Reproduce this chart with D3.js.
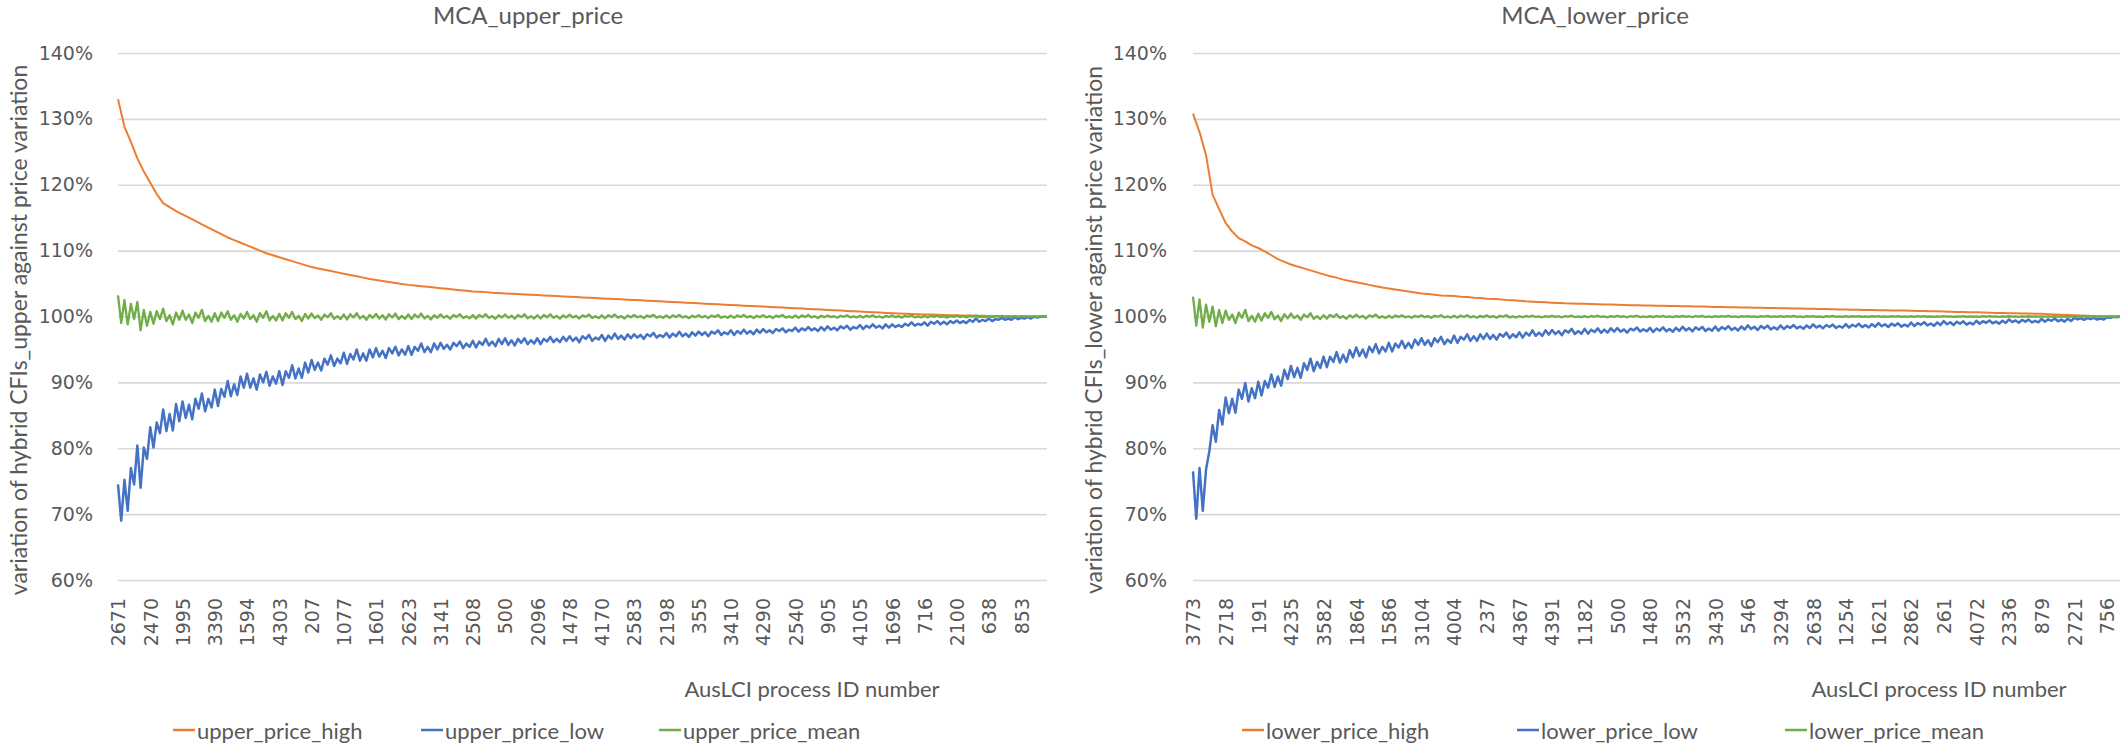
<!DOCTYPE html>
<html><head><meta charset="utf-8">
<script src="https://cdn.jsdelivr.net/npm/d3@7"></script>
<style>body{margin:0;background:#fff} svg{display:block}</style>
</head><body>
<script>
// ---------- DATA ----------
const yTickValues = [60, 70, 80, 90, 100, 110, 120, 130, 140];
const tickStep = 10;   // one category label every 10 plotted categories
const highStride = 2;  // the smooth "high" series is read at every 2nd category

const upperTickLabels = ['2671','2470','1995','3390','1594','4303','207','1077','1601','2623','3141','2508','500','2096','1478','4170','2583','2198','355','3410','4290','2540','905','4105','1696','716','2100','638','853'];
const lowerTickLabels = ['3773','2718','191','4235','3582','1864','1586','3104','4004','237','4367','4391','1182','500','1480','3532','3430','546','3294','2638','1254','1621','2862','261','4072','2336','879','2721','756'];

const upperHigh = [
 133.0,128.8,126.5,124.0,122.0,120.3,118.6,117.2,116.6,116.0,
 115.5,115.0,114.5,114.0,113.5,113.0,112.5,112.0,111.6,111.2,
 110.8,110.4,110.0,109.6,109.3,109.0,108.7,108.4,108.1,107.8,
 107.5,107.3,107.1,106.9,106.7,106.5,106.3,106.1,105.9,105.7,
 105.55,105.4,105.25,105.1,104.95,104.8,104.7,104.6,104.5,104.4,
 104.3,104.2,104.1,104.0,103.9,103.8,103.75,103.7,103.6,103.55,
 103.5,103.45,103.4,103.35,103.3,103.25,103.2,103.15,103.1,103.05,
 103.0,102.95,102.9,102.85,102.8,102.75,102.7,102.65,102.6,102.55,
 102.5,102.45,102.4,102.35,102.3,102.25,102.2,102.15,102.1,102.05,
 102.0,101.95,101.9,101.85,101.8,101.75,101.7,101.65,101.6,101.55,
 101.5,101.45,101.4,101.35,101.3,101.25,101.2,101.15,101.1,101.05,
 101.0,100.95,100.9,100.85,100.8,100.75,100.7,100.65,100.6,100.55,
 100.5,100.45,100.42,100.38,100.35,100.32,100.29,100.26,100.23,100.2,
 100.18,100.16,100.14,100.12,100.1,100.08,100.07,100.06,100.05,100.04,
 100.03,100.02,100.01,100.0,100.0];

const upperLow = [
 74.5,69.0,75.2,70.5,77.0,74.5,80.4,74.0,80.1,78.4,
 83.2,80.1,83.9,82.3,85.9,82.6,85.2,82.7,86.7,84.1,
 87.1,84.6,86.6,84.4,87.5,86.0,88.3,85.6,87.5,86.2,
 88.9,86.4,89.0,87.8,90.2,87.9,89.7,88.1,90.9,89.2,
 91.3,89.2,90.6,88.9,91.2,90.0,91.6,89.5,90.9,89.8,
 91.7,89.6,91.7,90.7,92.6,90.6,92.1,90.7,93.0,91.5,
 93.4,91.9,93.0,91.8,93.6,92.7,94.1,92.5,93.6,92.9,
 94.5,92.8,94.3,93.5,95.0,93.3,94.4,93.3,95.0,93.8,
 95.2,93.9,94.8,93.7,95.2,94.4,95.4,94.1,95.0,94.2,
 95.5,94.2,95.4,94.8,95.9,94.6,95.4,94.6,95.9,95.0,
 96.0,95.1,95.7,95.0,96.0,95.5,96.2,95.2,95.9,95.4,
 96.3,95.3,96.2,95.7,96.6,95.6,96.2,95.5,96.6,95.8,
 96.7,95.7,96.4,95.6,96.6,96.0,96.7,95.8,96.4,95.9,
 96.7,95.8,96.6,96.2,96.9,96.1,96.6,96.1,96.9,96.3,
 97.0,96.3,96.8,96.1,97.0,96.6,97.2,96.3,96.8,96.5,
 97.2,96.3,97.1,96.6,97.4,96.6,97.1,96.5,97.3,96.7,
 97.3,96.8,97.2,96.6,97.3,97.0,97.5,96.8,97.2,96.9,
 97.5,96.8,97.4,97.0,97.7,97.0,97.4,96.9,97.6,97.1,
 97.7,97.2,97.6,97.0,97.7,97.4,97.9,97.2,97.6,97.3,
 97.9,97.2,97.8,97.4,98.0,97.4,97.8,97.3,98.0,97.5,
 98.1,97.6,97.9,97.5,98.1,97.8,98.2,97.6,98.0,97.8,
 98.3,97.7,98.2,97.9,98.4,97.9,98.2,97.8,98.4,97.9,
 98.5,98.0,98.3,97.9,98.5,98.2,98.6,98.0,98.4,98.2,
 98.7,98.1,98.6,98.3,98.8,98.3,98.6,98.2,98.8,98.3,
 98.8,98.4,98.7,98.4,98.9,98.6,99.1,98.6,98.9,98.7,
 99.1,98.6,99.2,98.9,99.3,98.8,99.2,98.8,99.3,99.0,
 99.4,99.0,99.3,99.0,99.5,99.2,99.7,99.2,99.5,99.3,
 99.7,99.3,99.6,99.5,99.8,99.5,99.7,99.5,99.9,99.6,
 99.8,99.7,99.9,99.7,99.95,99.85,99.95,100.0,100.0];

const upperMean = [
 103.2,99.0,102.5,98.8,101.9,99.6,102.2,97.9,101.0,98.6,
 100.7,98.9,100.8,99.6,101.2,99.3,100.2,98.8,100.6,99.5,
 100.9,99.5,100.3,99.0,100.6,99.8,101.0,99.3,100.1,99.2,
 100.5,99.3,100.6,99.8,100.8,99.5,100.2,99.2,100.4,99.7,
 100.7,99.6,100.2,99.2,100.5,99.8,100.8,99.4,100.1,99.4,
 100.4,99.4,100.5,99.8,100.7,99.6,100.1,99.3,100.4,99.7,
 100.45,99.75,100.15,99.5,100.3,99.9,100.5,99.65,100.05,99.6,
 100.3,99.55,100.35,99.85,100.5,99.7,100.1,99.5,100.25,99.8,
 100.4,99.7,100.2,99.55,100.35,99.85,100.45,99.6,100.1,99.65,
 100.3,99.6,100.3,99.85,100.45,99.7,100.1,99.55,100.2,99.8,
 100.32,99.82,100.1,99.65,100.21,99.93,100.35,99.75,100.04,99.72,
 100.21,99.68,100.25,99.9,100.35,99.79,100.07,99.65,100.18,99.86,
 100.3,99.8,100.12,99.66,100.22,99.9,100.33,99.74,100.06,99.7,
 100.2,99.7,100.24,99.88,100.34,99.8,100.08,99.66,100.17,99.85,
 100.27,99.85,100.09,99.7,100.18,99.94,100.3,99.79,100.03,99.76,
 100.18,99.73,100.21,99.91,100.3,99.82,100.06,99.7,100.15,99.88,
 100.22,99.88,100.08,99.75,100.15,99.95,100.25,99.82,100.02,99.8,
 100.15,99.78,100.18,99.92,100.25,99.85,100.05,99.75,100.12,99.9,
 100.2,99.86,100.09,99.76,100.16,99.94,100.24,99.8,100.03,99.81,
 100.14,99.79,100.17,99.93,100.24,99.86,100.06,99.76,100.11,99.9,
 100.21,99.87,100.07,99.76,100.14,99.95,100.23,99.83,100.02,99.81,
 100.15,99.78,100.17,99.92,100.23,99.86,100.05,99.77,100.12,99.9,
 100.16,99.91,100.05,99.82,100.11,99.96,100.18,99.87,100.02,99.86,
 100.11,99.84,100.13,99.95,100.18,99.89,100.04,99.82,100.09,99.93,
 100.15,99.9,100.06,99.83,100.1,99.96,100.17,99.88,100.02,99.87,
 100.1,99.85,100.12,99.95,100.17,99.9,100.04,99.83,100.08,99.94,
 100.13,99.92,100.05,99.85,100.09,99.97,100.15,99.9,100.02,99.88,
 100.06,99.91,100.07,99.97,100.1,99.94,100.02,99.9,100.05,99.96,
 100.04,99.97,100.03,99.98,100.02,99.99,100.01,100.0,100.0];

const lowerHigh = [
 130.8,128.0,124.5,118.5,116.3,114.2,112.9,111.9,111.4,110.8,
 110.4,109.9,109.3,108.7,108.3,107.9,107.6,107.3,107.0,106.7,
 106.4,106.1,105.9,105.6,105.4,105.2,105.0,104.8,104.6,104.4,
 104.25,104.1,103.95,103.8,103.65,103.5,103.4,103.3,103.2,103.15,
 103.1,103.0,102.95,102.85,102.8,102.7,102.65,102.6,102.5,102.45,
 102.4,102.3,102.25,102.2,102.15,102.1,102.05,102.0,101.98,101.95,
 101.92,101.9,101.87,101.84,101.81,101.78,101.75,101.72,101.7,101.68,
 101.66,101.64,101.62,101.6,101.58,101.56,101.54,101.52,101.5,101.48,
 101.46,101.44,101.42,101.4,101.38,101.36,101.34,101.32,101.3,101.28,
 101.26,101.24,101.22,101.2,101.18,101.16,101.14,101.12,101.1,101.08,
 101.06,101.04,101.02,101.0,100.98,100.96,100.94,100.92,100.91,100.9,
 100.88,100.85,100.83,100.8,100.78,100.75,100.73,100.7,100.68,100.65,
 100.63,100.6,100.58,100.55,100.53,100.5,100.48,100.46,100.44,100.42,
 100.4,100.36,100.32,100.28,100.24,100.2,100.16,100.12,100.08,100.05,
 100.03,100.01,100.0];

const lowerLow = [
 76.5,69.3,77.0,70.5,76.8,79.5,83.5,81.0,85.8,83.6,
 87.7,85.3,87.5,85.4,88.9,87.5,89.9,87.1,89.1,87.6,
 90.1,88.0,90.2,89.2,91.2,89.3,90.9,89.5,91.9,90.5,
 92.5,90.8,92.2,90.7,92.9,91.9,93.6,91.7,93.1,92.2,
 93.9,92.3,93.9,93.1,94.6,93.0,94.2,93.1,94.9,93.8,
 95.3,94.0,95.0,93.8,95.4,94.6,95.8,94.4,95.4,94.7,
 96.0,94.7,95.9,95.3,96.3,95.2,96.0,95.2,96.5,95.7,
 96.7,95.7,96.4,95.5,96.7,96.1,96.9,95.8,96.5,96.0,
 97.1,96.0,96.9,96.5,97.3,96.3,97.0,96.3,97.3,96.6,
 97.4,96.6,97.2,96.5,97.35,96.95,97.55,96.7,97.3,96.85,
 97.6,96.8,97.55,97.1,97.9,97.05,97.55,97.05,97.9,97.25,
 97.95,97.33,97.78,97.15,97.92,97.56,98.11,97.34,97.79,97.38,
 98.12,97.4,98.0,97.64,98.2,97.52,98.02,97.54,98.22,97.7,
 98.25,97.69,98.04,97.55,98.15,97.9,98.32,97.72,98.07,97.75,
 98.28,97.65,98.18,97.86,98.35,97.75,98.1,97.68,98.28,97.82,
 98.45,97.89,98.24,97.75,98.35,98.0,98.42,97.82,98.17,97.85,
 98.48,97.85,98.38,98.06,98.55,97.95,98.3,97.88,98.48,98.02,
 98.65,98.09,98.44,97.95,98.55,98.2,98.62,98.02,98.37,98.05,
 98.64,98.1,98.55,98.28,98.7,98.19,98.49,98.13,98.64,98.25,
 98.8,98.32,98.62,98.2,98.71,98.41,98.77,98.26,98.56,98.29,
 98.84,98.3,98.75,98.48,98.9,98.39,98.69,98.33,98.84,98.45,
 99.0,98.52,98.82,98.4,98.91,98.61,98.97,98.46,98.76,98.49,
 99.09,98.55,99.0,98.73,99.15,98.64,98.94,98.58,99.09,98.7,
 99.3,98.82,99.12,98.7,99.21,98.91,99.27,98.76,99.06,98.79,
 99.35,98.9,99.28,99.05,99.4,98.97,99.23,98.92,99.35,99.02,
 99.55,99.15,99.4,99.05,99.48,99.22,99.53,99.1,99.35,99.12,
 99.65,99.2,99.58,99.35,99.7,99.27,99.53,99.22,99.65,99.32,
 99.8,99.56,99.71,99.5,99.76,99.6,99.79,99.53,99.68,99.54,
 99.9,99.8,99.95,99.9,100.0];

const lowerMean = [
 103.0,98.6,102.6,98.3,101.8,99.2,101.5,98.5,101.0,99.0,
 100.9,99.5,100.3,99.0,100.6,99.8,101.0,99.3,100.1,99.2,
 100.42,99.37,100.49,99.79,100.7,99.58,100.14,99.3,100.35,99.72,
 100.45,99.75,100.15,99.5,100.3,99.9,100.5,99.65,100.05,99.6,
 100.21,99.68,100.25,99.9,100.35,99.79,100.07,99.65,100.18,99.86,
 100.27,99.85,100.09,99.7,100.18,99.94,100.3,99.79,100.03,99.76,
 100.12,99.82,100.14,99.94,100.2,99.88,100.04,99.8,100.1,99.92,
 100.18,99.9,100.06,99.8,100.12,99.96,100.2,99.86,100.02,99.84,
 100.1,99.83,100.15,99.93,100.19,99.88,100.05,99.81,100.1,99.91,
 100.17,99.9,100.07,99.8,100.11,99.96,100.19,99.86,100.03,99.85,
 100.07,99.89,100.08,99.96,100.12,99.93,100.02,99.88,100.06,99.95,
 100.11,99.94,100.04,99.88,100.07,99.98,100.12,99.92,100.01,99.9,
 100.07,99.89,100.08,99.96,100.12,99.93,100.02,99.88,100.06,99.95,
 100.11,99.94,100.04,99.88,100.07,99.98,100.12,99.92,100.01,99.9,
 100.07,99.9,100.08,99.96,100.11,99.93,100.02,99.89,100.06,99.95,
 100.1,99.94,100.04,99.89,100.07,99.98,100.11,99.92,100.01,99.91,
 100.05,99.93,100.06,99.98,100.08,99.95,100.02,99.92,100.04,99.97,
 100.07,99.96,100.02,99.92,100.05,99.98,100.08,99.94,100.01,99.94,
 100.05,99.93,100.06,99.98,100.08,99.95,100.02,99.92,100.04,99.97,
 100.07,99.96,100.02,99.92,100.05,99.98,100.08,99.94,100.01,99.94,
 100.05,99.94,100.06,99.98,100.07,99.95,100.02,99.93,100.04,99.97,
 100.06,99.96,100.02,99.93,100.05,99.98,100.07,99.95,100.01,99.95,
 100.05,99.94,100.05,99.98,100.07,99.96,100.02,99.93,100.03,99.97,
 100.05,99.97,100.02,99.95,100.03,99.99,100.05,99.96,100.01,99.96,
 100.03,99.96,100.04,99.98,100.05,99.97,100.01,99.95,100.03,99.98,
 100.04,99.97,100.02,99.95,100.03,99.99,100.04,99.97,100.01,99.97,
 100.03,99.97,100.03,99.99,100.04,99.98,100.01,99.97,100.02,99.98,
 100.02,99.99,100.01,99.98,100.02,99.99,100.02,99.99,100.01,99.99,
 100.01,100.0,100.0,100.0,100.0];

// ---------- DRAWING ----------
const W = 2126, H = 748;
const COLORS = { high: '#ED7D31', low: '#4472C4', mean: '#70AD47' };
const TEXT = '#595959';
const FONT = 'Lato, "Open Sans", sans-serif';
const svg = d3.select('body').append('svg').attr('width', W).attr('height', H);
svg.append('rect').attr('width', W).attr('height', H).attr('fill', '#fff');

function drawChart(o) {
  const g = svg.append('g');
  const nCat = o.low.length;
  const x = d3.scaleLinear().domain([0, nCat - 1]).range([o.x0, o.x1]);
  const y = d3.scaleLinear().domain([60, 140]).range([580, 53]);

  // gridlines
  g.append('g').attr('transform', `translate(${o.x0},0)`)
    .call(d3.axisLeft(y).tickValues(yTickValues).tickSize(-(o.x1 - o.x0)).tickFormat(''))
    .call(a => a.select('.domain').remove())
    .call(a => a.selectAll('line').attr('stroke', '#D9D9D9').attr('stroke-width', 1.6));

  // y tick labels
  g.append('g').attr('transform', `translate(${o.yLabelX},0)`)
    .call(d3.axisLeft(y).tickValues(yTickValues).tickSize(0).tickPadding(0).tickFormat(d => d + '%'))
    .call(a => a.select('.domain').remove())
    .call(a => a.selectAll('text').attr('fill', TEXT)
      .style('font-family', '"DejaVu Sans", sans-serif').style('font-size', '19px'));

  // x tick labels (rotated)
  const tickIdx = o.ticks.map((t, i) => i * tickStep);
  g.append('g').attr('transform', `translate(0,598)`)
    .call(d3.axisBottom(x).tickValues(tickIdx).tickSize(0).tickFormat((d, i) => o.ticks[i]))
    .call(a => a.select('.domain').remove())
    .call(a => a.selectAll('text').attr('fill', TEXT)
      .style('font-family', '"DejaVu Sans", sans-serif').style('font-size', '19px')
      .attr('transform', 'rotate(-90)').attr('text-anchor', 'end')
      .attr('x', 0).attr('y', 0).attr('dy', '0.36em'));

  // series: high (every 2nd category), low, mean
  const highLine = d3.line().x((d, i) => x(i * highStride)).y(d => y(d));
  const catLine = d3.line().x((d, i) => x(i)).y(d => y(d));
  g.append('path').datum(o.high).attr('d', highLine)
    .attr('fill', 'none').attr('stroke', COLORS.high).attr('stroke-width', 2).attr('stroke-linejoin', 'round');
  g.append('path').datum(o.low).attr('d', catLine)
    .attr('fill', 'none').attr('stroke', COLORS.low).attr('stroke-width', 2.5).attr('stroke-linejoin', 'round');
  g.append('path').datum(o.mean).attr('d', catLine)
    .attr('fill', 'none').attr('stroke', COLORS.mean).attr('stroke-width', 2.3).attr('stroke-linejoin', 'round');

  // title
  g.append('text').attr('x', o.titleX).attr('y', 24).attr('text-anchor', 'middle')
    .attr('fill', TEXT).style('font-family', FONT).style('font-size', '24px').text(o.title);

  // y axis title
  g.append('text').attr('transform', `translate(${o.yTitleX},330) rotate(-90)`)
    .attr('text-anchor', 'middle').attr('dominant-baseline', 'central')
    .attr('fill', TEXT).style('font-family', FONT).style('font-size', '23px').text(o.yTitle);

  // x axis title
  g.append('text').attr('x', o.xTitleX).attr('y', 697).attr('text-anchor', 'middle')
    .attr('fill', TEXT).style('font-family', FONT).style('font-size', '22px').text('AusLCI process ID number');

  // legend
  const colors = [COLORS.high, COLORS.low, COLORS.mean];
  o.names.forEach((name, i) => {
    const lx = o.legendX[i];
    g.append('line').attr('x1', lx).attr('x2', lx + 22).attr('y1', 730).attr('y2', 730)
      .attr('stroke', colors[i]).attr('stroke-width', 2.5);
    g.append('text').attr('x', lx + 24).attr('y', 730).attr('dominant-baseline', 'central')
      .attr('fill', TEXT).style('font-family', FONT).style('font-size', '22px').text(name);
  });
}

drawChart({
  x0: 118, x1: 1047, yLabelX: 93, yTitleX: 18, titleX: 528, xTitleX: 812,
  title: 'MCA_upper_price',
  yTitle: 'variation of hybrid CFIs_upper against price variation',
  ticks: upperTickLabels,
  legendX: [173, 421, 659],
  names: ['upper_price_high', 'upper_price_low', 'upper_price_mean'],
  high: upperHigh, low: upperLow, mean: upperMean
});

drawChart({
  x0: 1193, x1: 2120, yLabelX: 1167, yTitleX: 1093, titleX: 1595, xTitleX: 1939,
  title: 'MCA_lower_price',
  yTitle: 'variation of hybrid CFIs_lower against price variation',
  ticks: lowerTickLabels,
  legendX: [1242, 1517, 1785],
  names: ['lower_price_high', 'lower_price_low', 'lower_price_mean'],
  high: lowerHigh, low: lowerLow, mean: lowerMean
});
</script>
</body></html>
